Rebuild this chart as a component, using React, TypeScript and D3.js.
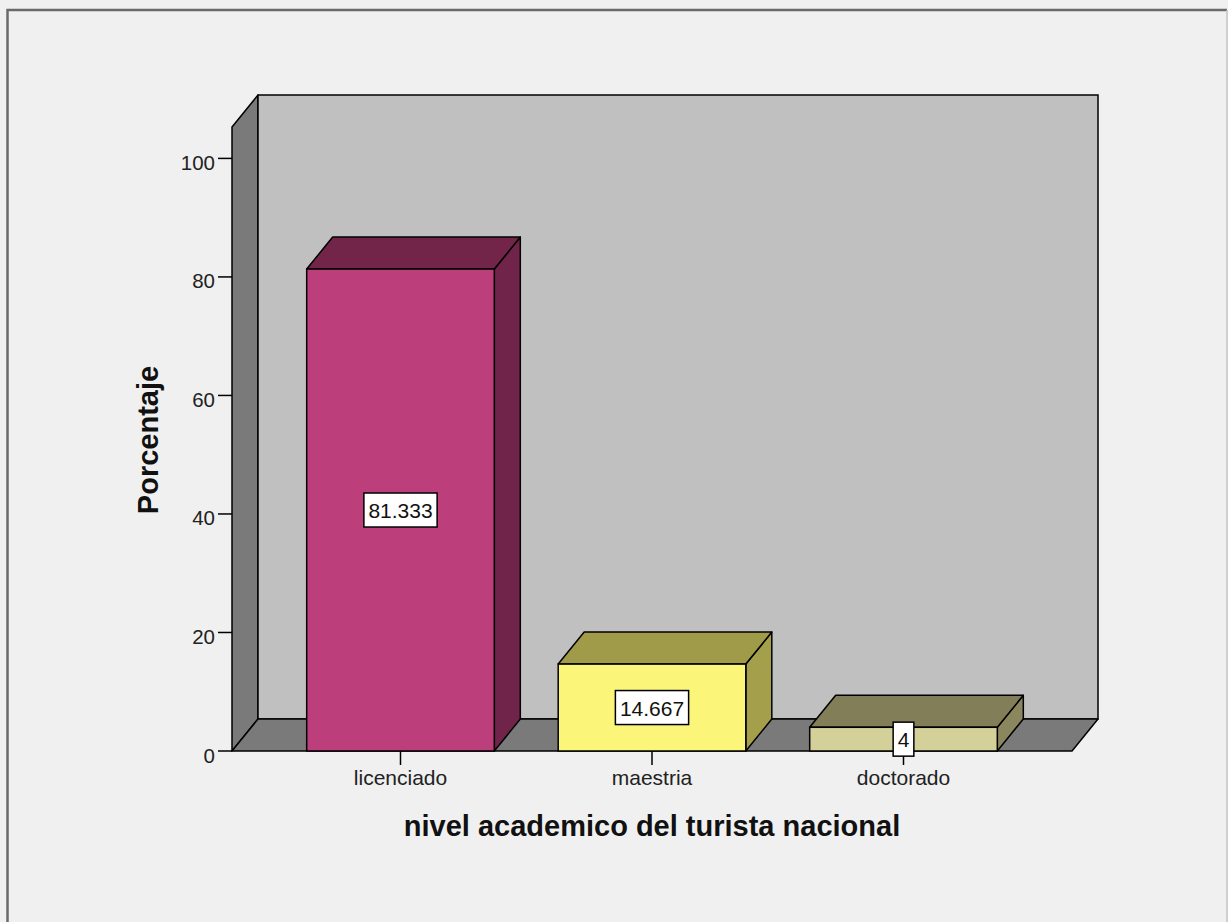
import React, { useEffect, useRef } from "react";
import * as d3 from "d3";

// Nivel académico del turista nacional (porcentaje)
const categories: string[] = ["licenciado", "maestria", "doctorado"];
const percentages: number[] = [81.333, 14.667, 4];
const valueLabels: string[] = ["81.333", "14.667", "4"];
const yTicks: number[] = [0, 20, 40, 60, 80, 100];

const frontColors = ["#bc3e7b", "#fbf67a", "#d4d09a"];
const topColors = ["#722549", "#a09b48", "#817e58"];
const sideColors = ["#70244a", "#a49f4b", "#8a875e"];

const W = 1228;
const H = 922;

export default function App() {
  const ref = useRef<SVGSVGElement | null>(null);

  useEffect(() => {
    const svg = d3.select(ref.current);
    svg.selectAll("*").remove();

    const font = "'Liberation Sans', Arial, sans-serif";

    // page background and frame
    svg.append("rect").attr("width", W).attr("height", H).attr("fill", "#f0f0f0");
    svg
      .append("path")
      .attr("d", `M7.5,${H + 5} L7.5,10 L1227,10`)
      .attr("fill", "none")
      .attr("stroke", "#6a6a6a")
      .attr("stroke-width", 2.5);
    svg
      .append("line")
      .attr("x1", 1227)
      .attr("x2", 1227)
      .attr("y1", 10)
      .attr("y2", H)
      .attr("stroke", "#c4c4c4")
      .attr("stroke-width", 1.5);

    // 3D geometry
    const left = 232;
    const right = 1072;
    const dx = 26;
    const dy = -32;
    const y = d3.scaleLinear().domain([0, 105.3]).range([751, 127]);
    const x = d3.scalePoint<string>().domain(categories).range([left, right]).padding(0.67);
    const step = x.step();
    const barW = step * 0.746;
    const y0 = y(0);
    const yTop = y(105.3);

    const g = svg.append("g");
    const stroke = "#000";

    // left side wall
    g.append("path")
      .attr("d", `M${left},${y0} L${left},${yTop} L${left + dx},${yTop + dy} L${left + dx},${y0 + dy} Z`)
      .attr("fill", "#7a7a7a")
      .attr("stroke", stroke)
      .attr("stroke-width", 1.5)
      .attr("stroke-linejoin", "round");
    // back wall
    g.append("rect")
      .attr("x", left + dx)
      .attr("y", yTop + dy)
      .attr("width", right - left)
      .attr("height", y0 - yTop)
      .attr("fill", "#c0c0c0")
      .attr("stroke", stroke)
      .attr("stroke-width", 1.5);
    // floor
    g.append("path")
      .attr("d", `M${left},${y0} L${left + dx},${y0 + dy} L${right + dx},${y0 + dy} L${right},${y0} Z`)
      .attr("fill", "#7a7a7a")
      .attr("stroke", stroke)
      .attr("stroke-width", 1.5)
      .attr("stroke-linejoin", "round");

    // bars
    categories.forEach((c, i) => {
      const cx = x(c) as number;
      const x0 = cx - barW / 2;
      const x1 = cx + barW / 2;
      const yt = y(percentages[i]);
      const bg = g.append("g");
      // side face
      bg.append("path")
        .attr("d", `M${x1},${yt} L${x1 + dx},${yt + dy} L${x1 + dx},${y0 + dy} L${x1},${y0} Z`)
        .attr("fill", sideColors[i])
        .attr("stroke", stroke)
        .attr("stroke-width", 1.5)
        .attr("stroke-linejoin", "round");
      // top face
      bg.append("path")
        .attr("d", `M${x0},${yt} L${x0 + dx},${yt + dy} L${x1 + dx},${yt + dy} L${x1},${yt} Z`)
        .attr("fill", topColors[i])
        .attr("stroke", stroke)
        .attr("stroke-width", 1.5)
        .attr("stroke-linejoin", "round");
      // front face
      bg.append("rect")
        .attr("x", x0)
        .attr("y", yt)
        .attr("width", barW)
        .attr("height", y0 - yt)
        .attr("fill", frontColors[i])
        .attr("stroke", stroke)
        .attr("stroke-width", 1.5);
    });

    // y axis ticks
    const ya = svg.append("g");
    yTicks.forEach((t) => {
      ya.append("line")
        .attr("x1", left - 14)
        .attr("x2", left)
        .attr("y1", y(t))
        .attr("y2", y(t))
        .attr("stroke", "#000")
        .attr("stroke-width", 1.5);
      ya.append("text")
        .attr("x", left - 17)
        .attr("y", y(t) + 11.5)
        .attr("text-anchor", "end")
        .attr("font-family", font)
        .attr("font-size", 20.5)
        .attr("fill", "#222")
        .text(String(t));
    });

    // x axis ticks and labels
    const xa = svg.append("g");
    categories.forEach((c) => {
      const cx = x(c) as number;
      xa.append("line")
        .attr("x1", cx)
        .attr("x2", cx)
        .attr("y1", y0)
        .attr("y2", y0 + 14)
        .attr("stroke", "#000")
        .attr("stroke-width", 1.5);
      xa.append("text")
        .attr("x", cx)
        .attr("y", y0 + 34)
        .attr("text-anchor", "middle")
        .attr("font-family", font)
        .attr("font-size", 21)
        .attr("fill", "#222")
        .text(c);
    });

    // value labels in white boxes
    const vl = svg.append("g");
    categories.forEach((c, i) => {
      const cx = x(c) as number;
      const cy = y(percentages[i] / 2);
      const lg = vl.append("g");
      const rect = lg.append("rect");
      const txt = lg
        .append("text")
        .attr("x", cx)
        .attr("y", cy + 8)
        .attr("text-anchor", "middle")
        .attr("font-family", font)
        .attr("font-size", 21)
        .attr("fill", "#111")
        .text(valueLabels[i]);
      const tw = (txt.node() as SVGTextElement).getComputedTextLength();
      const bw = tw + 9;
      rect
        .attr("x", cx - bw / 2)
        .attr("y", cy - 17)
        .attr("width", bw)
        .attr("height", 34)
        .attr("fill", "#fff")
        .attr("stroke", "#000")
        .attr("stroke-width", 1.5);
    });

    // axis titles
    svg
      .append("text")
      .attr("transform", `translate(158,440) rotate(-90)`)
      .attr("text-anchor", "middle")
      .attr("font-family", font)
      .attr("font-weight", "bold")
      .attr("font-size", 29)
      .attr("fill", "#111")
      .text("Porcentaje");
    svg
      .append("text")
      .attr("x", (left + right) / 2)
      .attr("y", 836)
      .attr("text-anchor", "middle")
      .attr("font-family", font)
      .attr("font-weight", "bold")
      .attr("font-size", 29)
      .attr("fill", "#111")
      .text("nivel academico del turista nacional");
  }, []);

  return (
    <svg
      ref={ref}
      width={W}
      height={H}
      style={{ position: "absolute", left: 0, top: 0, display: "block" }}
    />
  );
}
